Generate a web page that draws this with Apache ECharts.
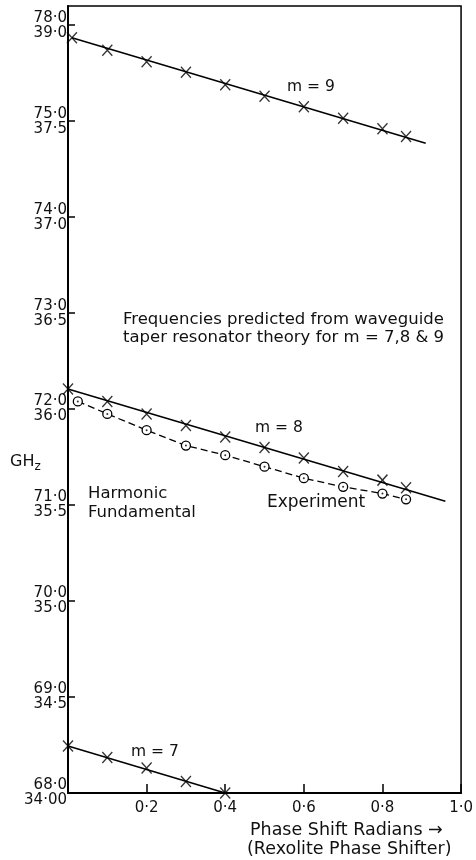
<!DOCTYPE html>
<html>
<head>
<meta charset="utf-8">
<script src="https://cdn.jsdelivr.net/npm/echarts@6/dist/echarts.min.js"></script>
<style>
html,body{margin:0;padding:0;background:#fff;}
#chart{width:476px;height:860px;}
</style>
</head>
<body>
<div id="chart"></div>
<script>
// ---- data (x: phase shift radians, y: harmonic frequency GHz) ----
const m9X = [0.01, 0.1, 0.2, 0.3, 0.4, 0.5, 0.6, 0.7, 0.8, 0.86];
const m9Y = [75.87, 75.74, 75.62, 75.51, 75.38, 75.26, 75.15, 75.03, 74.92, 74.84];
const m9LineX = [0.01, 0.91];
const m9LineY = [75.87, 74.77];

const m8X = [0, 0.1, 0.2, 0.3, 0.4, 0.5, 0.6, 0.7, 0.8, 0.86];
const m8Y = [72.21, 72.08, 71.95, 71.83, 71.71, 71.60, 71.49, 71.35, 71.26, 71.18];
const m8LineX = [0, 0.96];
const m8LineY = [72.21, 71.04];

const expX = [0.025, 0.1, 0.2, 0.3, 0.4, 0.5, 0.6, 0.7, 0.8, 0.86];
const expY = [72.08, 71.95, 71.78, 71.62, 71.52, 71.40, 71.28, 71.19, 71.12, 71.06];

const m7X = [0, 0.1, 0.2, 0.3, 0.4];
const m7Y = [68.49, 68.37, 68.26, 68.12, 68.0];
const m7LineX = [0, 0.4];
const m7LineY = [68.49, 68.0];

const yTickValues = [68, 69, 70, 71, 72, 73, 74, 75, 76];
const harmonicLabels = ['68·0', '69·0', '70·0', '71·0', '72·0', '73·0', '74·0', '75·0', '78·0'];
const fundamentalLabels = ['34·00', '34·5', '35·0', '35·5', '36·0', '36·5', '37·0', '37·5', '39·0'];
const xTickValues = [0.2, 0.4, 0.6, 0.8, 1.0];
const xTickLabels = ['0·2', '0·4', '0·6', '0·8', '1·0'];

// ---- build ----
const zip = (xs, ys) => xs.map((x, i) => [x, ys[i]]);
const FONT = 'DejaVu Sans';
const crossSym = 'path://M0,0L10,10M0,10L10,0';

const chart = echarts.init(document.getElementById('chart'));
const crossStyle = {color: 'rgba(0,0,0,0)', borderColor: '#000', borderWidth: 1.4};

function txt(text, x, y, size) {
  return {
    type: 'text', x: x, y: y,
    style: {text: text, font: size + 'px "' + FONT + '"', fill: '#111', align: 'left', verticalAlign: 'middle'}
  };
}

chart.setOption({
  animation: false,
  backgroundColor: '#fff',
  grid: {left: 68, right: 14, top: 6, bottom: 67, show: true, borderColor: '#000', borderWidth: 1.5, containLabel: false},
  xAxis: {
    type: 'value', min: 0, max: 1.0, interval: 0.2,
    axisLine: {lineStyle: {color: '#000', width: 2}},
    axisTick: {inside: true, length: 9, lineStyle: {color: '#000', width: 1.5}},
    splitLine: {show: false},
    axisLabel: {
      showMinLabel: false, margin: 8, color: '#111', fontFamily: FONT, fontSize: 15,
      formatter: v => { const i = xTickValues.findIndex(t => Math.abs(t - v) < 1e-6); return i < 0 ? '' : xTickLabels[i]; }
    }
  },
  yAxis: {
    type: 'value', min: 68, max: 76.2, interval: 1,
    axisLine: {lineStyle: {color: '#000', width: 2}},
    axisTick: {inside: true, length: 7, lineStyle: {color: '#000', width: 1.5}},
    splitLine: {show: false},
    axisLabel: {
      showMaxLabel: false, margin: 1, color: '#111', fontFamily: FONT, fontSize: 15, lineHeight: 15, align: 'right',
      formatter: v => { const i = yTickValues.findIndex(t => Math.abs(t - v) < 1e-6); return i < 0 ? '' : harmonicLabels[i] + '\n' + fundamentalLabels[i]; }
    }
  },
  series: [
    {type: 'line', data: zip(m9LineX, m9LineY), symbol: 'none', lineStyle: {color: '#000', width: 1.5}, z: 2},
    {type: 'scatter', data: zip(m9X, m9Y), symbol: crossSym, symbolSize: [10, 11], itemStyle: crossStyle, z: 3},
    {type: 'line', data: zip(m8LineX, m8LineY), symbol: 'none', lineStyle: {color: '#000', width: 1.5}, z: 2},
    {type: 'scatter', data: zip(m8X, m8Y), symbol: crossSym, symbolSize: [10, 11], itemStyle: crossStyle, z: 3},
    {type: 'line', data: zip(expX, expY), symbol: 'circle', symbolSize: 9, showSymbol: true,
     itemStyle: {color: '#fff', borderColor: '#000', borderWidth: 1.3},
     lineStyle: {color: '#000', width: 1.3, type: [7, 4]}, z: 2},
    {type: 'scatter', data: zip(expX, expY), symbol: 'circle', symbolSize: 2, itemStyle: {color: '#000'}, z: 4},
    {type: 'line', data: zip(m7LineX, m7LineY), symbol: 'none', lineStyle: {color: '#000', width: 1.5}, z: 2},
    {type: 'scatter', data: zip(m7X, m7Y), symbol: crossSym, symbolSize: [10, 11], itemStyle: crossStyle, z: 3}
  ],
  graphic: [
    txt('m = 9', 287, 87, 15.5),
    txt('Frequencies predicted from waveguide', 123, 320, 16.5),
    txt('taper resonator theory for m = 7,8 & 9', 123, 338, 16.5),
    txt('m = 8', 255, 428, 15.5),
    txt('Harmonic', 88, 494, 16.5),
    txt('Fundamental', 88, 513, 16.5),
    txt('Experiment', 267, 503, 17),
    {type: 'text', x: 10, y: 462, style: {
      text: '{a|GH}{b|z}', fill: '#111', verticalAlign: 'middle',
      rich: {a: {fontFamily: FONT, fontSize: 16}, b: {fontFamily: FONT, fontSize: 12, padding: [9, 0, 0, 0]}}
    }},
    txt('m = 7', 131, 752, 15.5),
    txt('Phase Shift Radians \u2192', 250, 830, 17.5),
    txt('(Rexolite Phase Shifter)', 247, 849, 17.5)
  ]
});
</script>
</body>
</html>
